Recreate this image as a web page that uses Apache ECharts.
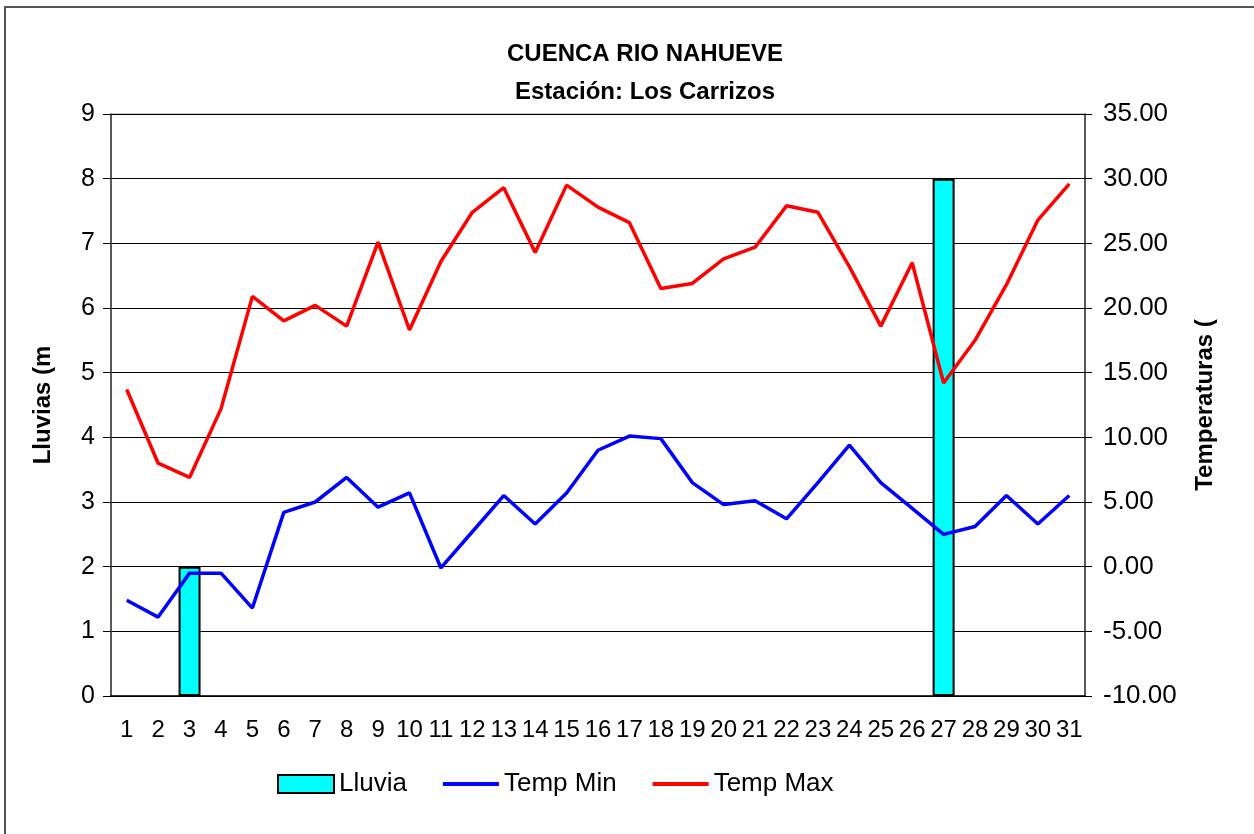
<!DOCTYPE html>
<html>
<head>
<meta charset="utf-8">
<script src="https://cdn.jsdelivr.net/npm/echarts@6/dist/echarts.min.js"></script>
<style>
  html, body { margin: 0; padding: 0; background: #fff; }
  #frame { position: absolute; left: 4px; top: 6px; width: 1260px; height: 840px;
           border-left: 2px solid #555; border-top: 2px solid #555; box-sizing: border-box; }
  #chart { width: 1254px; height: 834px; }
</style>
</head>
<body>
<div id="frame"></div>
<div id="chart"></div>
<script>
const days = ['1','2','3','4','5','6','7','8','9','10','11','12','13','14','15','16',
  '17','18','19','20','21','22','23','24','25','26','27','28','29','30','31'];

const lluvia = [0, 0, 2, 0, 0, 0, 0, 0, 0, 0, 0, 0, 0, 0, 0, 0,
  0, 0, 0, 0, 0, 0, 0, 0, 0, 0, 8, 0, 0, 0, 0];

const tempMin = [-2.6, -3.9, -0.5, -0.5, -3.2, 4.2, 5.0, 6.9, 4.6, 5.7, -0.1, 2.7, 5.5, 3.3, 5.7, 9.0,
  10.1, 9.9, 6.5, 4.8, 5.1, 3.7, 6.5, 9.4, 6.5, 4.5, 2.5, 3.1, 5.5, 3.3, 5.5];

const tempMax = [13.7, 8.0, 6.9, 12.2, 20.9, 19.0, 20.2, 18.6, 25.1, 18.3, 23.6, 27.4, 29.3, 24.3, 29.5, 27.8,
  26.6, 21.5, 21.9, 23.8, 24.7, 27.9, 27.4, 23.2, 18.6, 23.5, 14.2, 17.5, 21.8, 26.8, 29.6];

const font = "'Liberation Sans', Arial, sans-serif";

const chart = echarts.init(document.getElementById('chart'));
chart.setOption({
  animation: false,
  title: {
    text: 'CUENCA RIO NAHUEVE\nEstación: Los Carrizos',
    left: 640, top: 30, textAlign: 'center',
    textStyle: { fontFamily: font, fontSize: 24, fontWeight: 'bold', color: '#000', lineHeight: 38 }
  },
  legend: {
    bottom: 32, left: 272,
    itemWidth: 56, itemHeight: 18, itemGap: 34,
    textStyle: { fontFamily: font, fontSize: 26, color: '#000' },
    data: [
      { name: 'Lluvia', icon: 'rect' },
      { name: 'Temp Min', itemStyle: { opacity: 0 }, lineStyle: { width: 4 } },
      { name: 'Temp Max', itemStyle: { opacity: 0 }, lineStyle: { width: 4 } }
    ]
  },
  grid: { left: 111, right: 169, top: 114, bottom: 138,
          show: true, borderColor: '#999', borderWidth: 1 },
  xAxis: {
    type: 'category', data: days,
    axisLine: { lineStyle: { color: '#000', width: 1.5 } },
    axisTick: { length: 7, lineStyle: { color: '#000' } },
    axisLabel: { fontFamily: font, fontSize: 24, color: '#000', margin: 22, interval: 0 }
  },
  yAxis: [
    {
      type: 'value', min: 0, max: 9, interval: 1,
      name: 'Lluvias (m', nameLocation: 'middle', nameGap: 56, nameRotate: 90,
      nameTextStyle: { fontFamily: font, fontSize: 24, fontWeight: 'bold', color: '#000' },
      axisLine: { show: true, lineStyle: { color: '#333', width: 1.5 } },
      axisTick: { show: true, length: 8, lineStyle: { color: '#000' } },
      axisLabel: { fontFamily: font, fontSize: 25, color: '#000', margin: 16 },
      splitLine: { lineStyle: { color: '#000', width: 1 } }
    },
    {
      type: 'value', min: -10, max: 35, interval: 5,
      name: 'Temperaturas (', nameLocation: 'middle', nameGap: 108, nameRotate: 90,
      nameTextStyle: { fontFamily: font, fontSize: 24, fontWeight: 'bold', color: '#000' },
      axisLine: { show: true, lineStyle: { color: '#333', width: 1.5 } },
      axisTick: { show: true, length: 7, lineStyle: { color: '#000' } },
      axisLabel: { fontFamily: font, fontSize: 26, color: '#000', margin: 18,
                   formatter: v => v.toFixed(2) },
      splitLine: { show: false }
    }
  ],
  series: [
    {
      name: 'Lluvia', type: 'bar', yAxisIndex: 0,
      data: lluvia.map(v => (v === 0 ? '-' : v)),
      barWidth: '70%',
      itemStyle: { color: '#00ffff', borderColor: '#000', borderWidth: 2 }
    },
    {
      name: 'Temp Min', type: 'line', yAxisIndex: 1, data: tempMin,
      symbol: 'none', lineStyle: { color: '#0000ff', width: 3.5 }, itemStyle: { color: '#0000ff' }
    },
    {
      name: 'Temp Max', type: 'line', yAxisIndex: 1, data: tempMax,
      symbol: 'none', lineStyle: { color: '#ff0000', width: 3.5 }, itemStyle: { color: '#ff0000' }
    }
  ]
});
</script>
</body>
</html>
